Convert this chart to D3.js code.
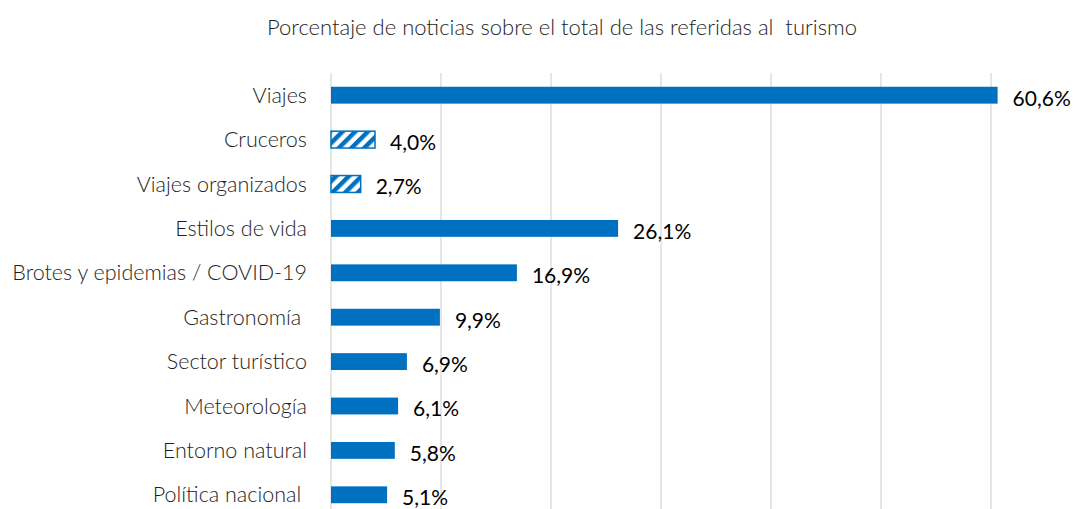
<!DOCTYPE html>
<html>
<head>
<meta charset="utf-8">
<script src="https://cdn.jsdelivr.net/npm/d3@7"></script>
<style>
  body { margin: 0; background: #fff; }
  svg text { font-family: Lato, "Open Sans", sans-serif; fill: #1e1e1e; white-space: pre; }
</style>
</head>
<body>
<svg id="viz" width="1086" height="509"></svg>
<script>
// Categories, values (%) and which bars are hatched
const categories = ["Viajes", "Cruceros", "Viajes organizados", "Estilos de vida",
  "Brotes y epidemias / COVID-19", "Gastronomía ", "Sector turístico", "Meteorología",
  "Entorno natural", "Política nacional "];
const values = [60.6, 4.0, 2.7, 26.1, 16.9, 9.9, 6.9, 6.1, 5.8, 5.1];
const hatched = ["Cruceros", "Viajes organizados"];
const gridTicks = [0, 10, 20, 30, 40, 50, 60, 70];
const title = "Porcentaje de noticias sobre el total de las referidas al  turismo";

const svg = d3.select("#viz");
const blue = "#0070c0";

const x = d3.scaleLinear().domain([0, 70]).range([331, 1101]);
const y = d3.scaleBand().domain(categories).range([73, 517]).paddingInner(0.62).paddingOuter(0.31);

// Hatch pattern
const pat = svg.append("defs").append("pattern")
    .attr("id", "hatch")
    .attr("patternUnits", "userSpaceOnUse")
    .attr("width", 9).attr("height", 9)
    .attr("patternTransform", "rotate(45)");
pat.append("rect").attr("width", 9).attr("height", 9).attr("fill", "#fff");
pat.append("rect").attr("width", 4.5).attr("height", 9).attr("fill", blue);

// Title
svg.append("text")
    .attr("x", 562).attr("y", 35)
    .attr("text-anchor", "middle")
    .attr("font-size", "22px")
    .attr("font-weight", 300)
    .text(title);

// Gridlines
svg.append("g").selectAll("line")
    .data(gridTicks)
    .join("line")
    .attr("x1", d => x(d)).attr("x2", d => x(d))
    .attr("y1", 73).attr("y2", 509)
    .attr("stroke", "#d9d9d9")
    .attr("stroke-width", 1.3);

const data = categories.map((c, i) => ({ cat: c, val: values[i] }));

// Bars
svg.append("g").selectAll("rect")
    .data(data)
    .join("rect")
    .attr("x", x(0))
    .attr("y", d => y(d.cat))
    .attr("width", d => x(d.val) - x(0))
    .attr("height", y.bandwidth())
    .attr("fill", d => hatched.includes(d.cat) ? "url(#hatch)" : blue)
    .attr("stroke", d => hatched.includes(d.cat) ? blue : "none")
    .attr("stroke-width", 1.5);

// Category labels
svg.append("g").selectAll("text")
    .data(data)
    .join("text")
    .attr("x", 307)
    .attr("y", d => y(d.cat) + y.bandwidth() / 2)
    .attr("dy", "0.35em")
    .attr("text-anchor", "end")
    .attr("font-size", "21.5px")
    .attr("font-weight", 300)
    .text(d => d.cat);

// Value labels
svg.append("g").selectAll("text")
    .data(data)
    .join("text")
    .attr("x", d => x(d.val) + 15)
    .attr("y", d => y(d.cat) + y.bandwidth() / 2 + 3)
    .attr("dy", "0.35em")
    .attr("font-size", "21px")
    .style("fill", "#000")
    .text(d => d.val.toFixed(1).replace(".", ",") + "%");
</script>
</body>
</html>
